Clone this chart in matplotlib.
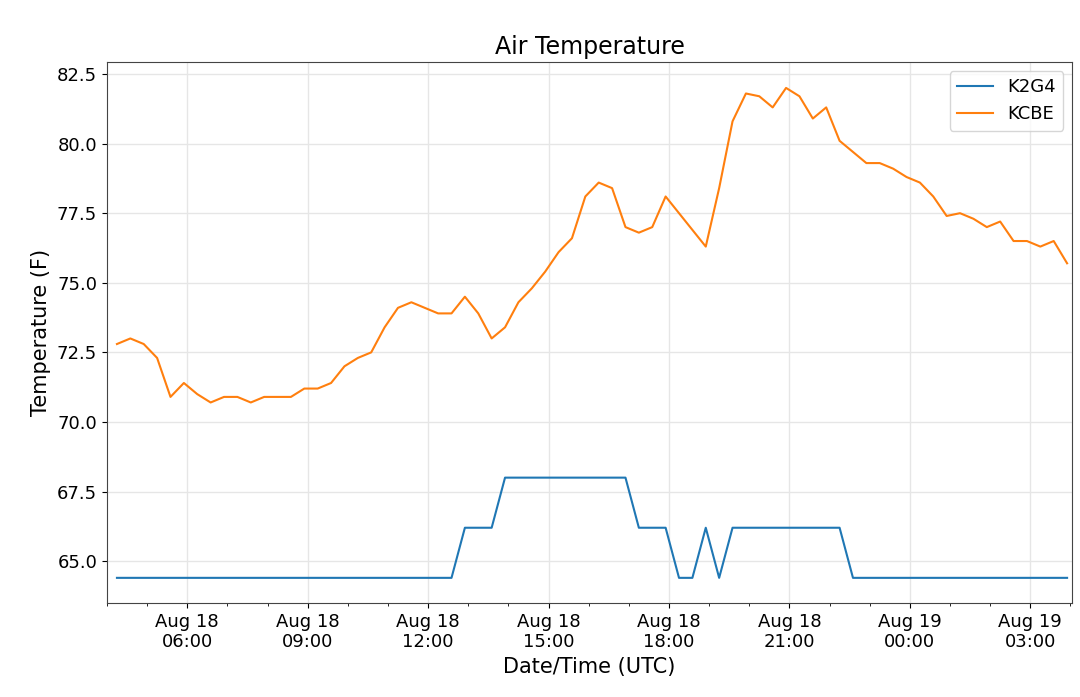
import numpy as np
import matplotlib
matplotlib.use('Agg')
import matplotlib.pyplot as plt
import matplotlib.dates as mdates

# observation times: every 20 min starting Aug 18 04:15 UTC
times = np.datetime64('2019-08-18T04:15') + np.arange(72) * np.timedelta64(20, 'm')

kcbe = [72.8, 73.0, 72.8, 72.3, 70.9, 71.4, 71.0, 70.7, 70.9, 70.9, 70.7, 70.9,
        70.9, 70.9, 71.2, 71.2, 71.4, 72.0, 72.3, 72.5, 73.4, 74.1, 74.3, 74.1,
        73.9, 73.9, 74.5, 73.9, 73.0, 73.4, 74.3, 74.8, 75.4, 76.1, 76.6, 78.1,
        78.6, 78.4, 77.0, 76.8, 77.0, 78.1, 77.5, 76.9, 76.3, 78.4, 80.8, 81.8,
        81.7, 81.3, 82.0, 81.7, 80.9, 81.3, 80.1, 79.7, 79.3, 79.3, 79.1, 78.8,
        78.6, 78.1, 77.4, 77.5, 77.3, 77.0, 77.2, 76.5, 76.5, 76.3, 76.5, 75.7]

k2g4 = ([64.4] * 26 + [66.2] * 3 + [68.0] * 10 + [66.2] * 3 + [64.4] * 2
        + [66.2] + [64.4] + [66.2] * 9 + [64.4] * 17)

fig = plt.figure(figsize=(10.8, 6.97), dpi=100)
ax = fig.add_axes([0.099, 0.135, 0.894, 0.776])
ax.plot(times, k2g4, color='#1f77b4', lw=1.5, label='K2G4')
ax.plot(times, kcbe, color='#ff7f0e', lw=1.5, label='KCBE')

ax.set_xlim(times[0] - np.timedelta64(15, 'm'), times[-1] + np.timedelta64(8, 'm'))
ax.set_ylim(63.5, 82.93)
ax.xaxis.set_major_locator(mdates.HourLocator(byhour=range(0, 24, 3)))
ax.xaxis.set_minor_locator(mdates.HourLocator())
ax.xaxis.set_major_formatter(mdates.DateFormatter('%b %d\n%H:%M'))
ax.tick_params(labelsize=13)
ax.grid(True, color='#e6e6e6', lw=1)
for s in ax.spines.values():
    s.set_color('#444444')

ax.set_title('Air Temperature', fontsize=17)
ax.set_xlabel('Date/Time (UTC)', fontsize=15)
ax.set_ylabel('Temperature (F)', fontsize=15)
ax.legend(fontsize=13, loc='upper right')

fig.savefig('out.png')
